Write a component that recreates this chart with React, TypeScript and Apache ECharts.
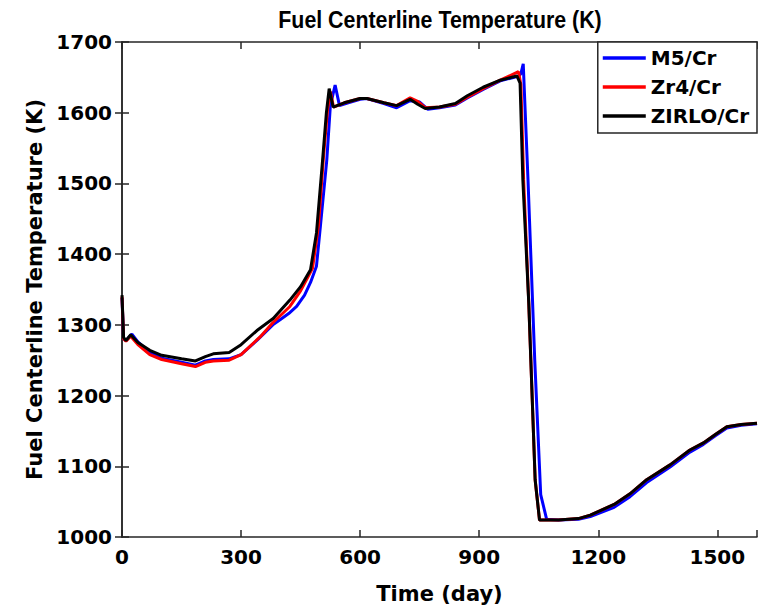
import React, { useEffect, useRef } from "react";
import * as echarts from "echarts";

const xTicks = [0, 300, 600, 900, 1200, 1500];
const yTicks = [1000, 1100, 1200, 1300, 1400, 1500, 1600, 1700];
const seriesNames = ["M5/Cr", "Zr4/Cr", "ZIRLO/Cr"];
const titleText = "Fuel Centerline Temperature (K)";

const m5Data: [number, number][] = [
  [0, 1338], [4, 1280], [10, 1278], [25, 1287], [40, 1276], [70, 1261], [100, 1253],
  [150, 1247], [185, 1243], [210, 1249], [230, 1251], [270, 1252], [300, 1258],
  [340, 1278], [380, 1300], [400, 1308], [420, 1316], [440, 1326], [460, 1342],
  [475, 1360], [490, 1383], [500, 1440],
  [516, 1533], [525, 1610], [537, 1639], [548, 1610], [570, 1614], [600, 1619],
  [617, 1620], [660, 1613], [692, 1607], [726, 1617], [750, 1615], [770, 1605],
  [800, 1607], [840, 1611], [870, 1621], [910, 1633], [953, 1645], [1000, 1652],
  [1005, 1655], [1011, 1669], [1023, 1505], [1040, 1250], [1055, 1060], [1070, 1025],
  [1100, 1024], [1150, 1025], [1180, 1029], [1240, 1042], [1280, 1057], [1322, 1077],
  [1381, 1099], [1431, 1120], [1465, 1131], [1495, 1143], [1524, 1154], [1560, 1158],
  [1600, 1160],
];

const zr4Data: [number, number][] = [
  [0, 1340], [4, 1280], [10, 1277], [22, 1284], [40, 1272], [70, 1258], [100, 1251],
  [150, 1245], [185, 1241], [210, 1247], [230, 1249], [270, 1250], [300, 1258],
  [348, 1283], [380, 1303], [423, 1326], [450, 1348], [480, 1380], [495, 1440],
  [508, 1540], [518, 1605], [525, 1630], [533, 1608], [560, 1614], [600, 1620],
  [617, 1620], [660, 1614], [692, 1610], [726, 1621], [745, 1616], [764, 1607],
  [800, 1608], [840, 1612], [870, 1622], [910, 1634], [953, 1646], [999, 1658],
  [1005, 1640], [1012, 1505], [1025, 1330], [1041, 1081], [1052, 1024], [1100, 1024],
  [1150, 1026], [1180, 1031], [1240, 1046], [1280, 1061], [1322, 1081], [1381, 1102],
  [1431, 1123], [1465, 1133], [1495, 1145], [1524, 1156], [1560, 1159], [1600, 1161],
];

const zirloData: [number, number][] = [
  [0, 1342], [4, 1282], [10, 1278], [22, 1286], [40, 1275], [70, 1264], [100, 1257],
  [150, 1252], [185, 1249], [210, 1255], [230, 1259], [270, 1261], [300, 1272],
  [340, 1292], [381, 1309], [423, 1335], [450, 1354], [475, 1378], [490, 1430],
  [505, 1530], [515, 1600], [522, 1634], [532, 1608], [560, 1614], [600, 1620],
  [617, 1620], [660, 1614], [692, 1610], [726, 1619], [745, 1612], [764, 1606],
  [800, 1608], [840, 1613], [870, 1624], [910, 1636], [953, 1646], [995, 1652],
  [1003, 1642], [1010, 1505], [1025, 1330], [1041, 1081], [1052, 1024], [1100, 1024],
  [1150, 1026], [1180, 1031], [1240, 1046], [1280, 1061], [1322, 1081], [1381, 1102],
  [1431, 1123], [1465, 1133], [1495, 1145], [1524, 1156], [1560, 1159], [1600, 1161],
];

const colors = ["#0000ff", "#ff0000", "#000000"];
const FONT = "DejaVu Sans, Verdana, sans-serif";
const TITLE_FONT = "Liberation Sans, Arial, Helvetica, sans-serif";
const AXIS_COLOR = "#262626";

export default function App() {
  const ref = useRef<HTMLDivElement>(null);
  useEffect(() => {
    if (!ref.current) return;
    const chart = echarts.init(ref.current, undefined, { renderer: "svg" });
    const axisLine = { show: true, lineStyle: { color: AXIS_COLOR, width: 1.5 } };
    const tick = { show: true, inside: true, length: 7, lineStyle: { color: AXIS_COLOR, width: 1.5 } };
    const xFmt = (v: number) => (xTicks.includes(v) ? String(v) : "");
    const yFmt = (v: number) => (yTicks.includes(v) ? String(v) : "");
    const dataSets = [m5Data, zr4Data, zirloData];
    const labelStyle = { fontSize: 20, fontWeight: "bold", color: "#000", fontFamily: FONT };
    const nameStyle = { fontSize: 21, fontWeight: "bold", color: "#000", fontFamily: FONT };
    chart.setOption({
      animation: false,
      backgroundColor: "#ffffff",
      textStyle: { fontFamily: FONT },
      graphic: [
        {
          type: "text",
          x: 440,
          y: 20,
          scaleX: 0.89,
          scaleY: 1,
          style: {
            text: titleText,
            x: 0,
            y: 0,
            align: "center",
            verticalAlign: "middle",
            font: `bold 24px ${TITLE_FONT}`,
            fill: "#000",
          },
        },
      ],
      grid: { left: 122, right: 12, top: 42, bottom: 76, containLabel: false },
      legend: {
        right: 12,
        top: 42,
        orient: "vertical",
        align: "left",
        itemWidth: 43,
        itemHeight: 3.5,
        itemGap: 9,
        icon: "rect",
        padding: [6, 8, 7, 5],
        borderColor: AXIS_COLOR,
        borderWidth: 1.5,
        backgroundColor: "#ffffff",
        textStyle: { ...labelStyle },
        data: seriesNames,
      },
      xAxis: [
        {
          type: "value",
          min: 0,
          max: 1600,
          interval: 300,
          position: "bottom",
          name: "Time (day)",
          nameLocation: "middle",
          nameGap: 46,
          nameTextStyle: nameStyle,
          axisLine,
          axisTick: tick,
          splitLine: { show: false },
          axisLabel: { ...labelStyle, formatter: xFmt, margin: 10 },
        },
        {
          type: "value",
          min: 0,
          max: 1600,
          interval: 300,
          position: "top",
          axisLine,
          axisTick: tick,
          splitLine: { show: false },
          axisLabel: { show: false },
        },
      ],
      yAxis: [
        {
          type: "value",
          min: 1000,
          max: 1700,
          interval: 100,
          position: "left",
          name: "Fuel Centerline Temperature (K)",
          nameLocation: "middle",
          nameGap: 72,
          nameTextStyle: nameStyle,
          axisLine,
          axisTick: tick,
          splitLine: { show: false },
          axisLabel: { ...labelStyle, formatter: yFmt, margin: 10 },
        },
        {
          type: "value",
          min: 1000,
          max: 1700,
          interval: 100,
          position: "right",
          axisLine,
          axisTick: tick,
          splitLine: { show: false },
          axisLabel: { show: false },
        },
      ],
      series: seriesNames.map((name, i) => ({
        name,
        type: "line",
        data: dataSets[i],
        xAxisIndex: 0,
        yAxisIndex: 0,
        showSymbol: false,
        symbol: "none",
        color: colors[i],
        lineStyle: { color: colors[i], width: 3 },
        z: 2 + i,
      })),
    });
    return () => chart.dispose();
  }, []);
  return (
    <div
      ref={ref}
      style={{ position: "fixed", left: 0, top: 0, width: 769, height: 613 }}
    />
  );
}
